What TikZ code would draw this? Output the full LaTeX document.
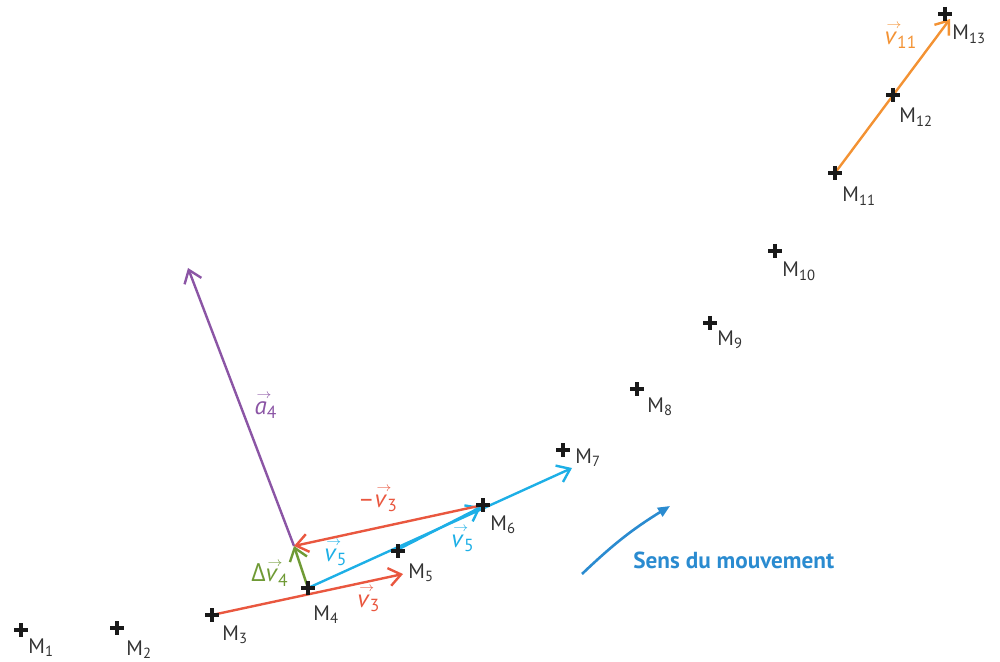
\documentclass[tikz,border=0pt]{standalone}
\usepackage{fontspec}
\setmainfont{PT Sans}
\newfontfamily\grk{Open Sans}
\usetikzlibrary{arrows.meta}
\definecolor{cred}{HTML}{E9573F}
\definecolor{ccyan}{HTML}{1DAFE6}
\definecolor{cpurple}{HTML}{8B55A5}
\definecolor{cgreen}{HTML}{6F9A35}
\definecolor{corange}{HTML}{F39233}
\definecolor{cblue}{HTML}{2A8BD0}
\definecolor{labgray}{HTML}{333333}
\newcommand\vv[1]{\makebox[0pt][l]{\hspace{0.08em}\raisebox{0.62em}[\height][0pt]{\scalebox{0.62}[0.55]{$\rightarrow$}}}\textit{#1}}
\begin{document}
\begin{tikzpicture}[x=0.5pt,y=-0.5pt,
  cross/.style={line width=1.6pt, black!90},
  lab/.style={anchor=base west, inner sep=0pt, text=labgray, font=\fontsize{10.5}{12}\selectfont},
  vlab/.style={inner sep=0pt, font=\fontsize{12.5}{14}\selectfont},
  vecarrow/.style={line width=1.2pt, -{Straight Barb[length=6pt,width=9pt]}},
  ]
\useasboundingbox (0,0) rectangle (1000,662);
% points
\foreach \n/\x/\y in {1/21/630,2/117/628,3/212/615,4/308/588,5/398/551,6/483/505,7/563/450,8/637/389,9/710/323,10/775/251,11/835/173,12/893/95,13/945/14}
  {\coordinate (M\n) at (\x,\y);}
% construction coordinates
\coordinate (V3t) at (403,574);
\coordinate (N3t) at (294,546);
\coordinate (V5t) at (572,468);
\coordinate (S5a) at (399,549);
\coordinate (S5b) at (481,507);
\coordinate (A4t) at (188,268);
\coordinate (V11t) at (950,19);
\coordinate (Ms) at (582,574);
\coordinate (Me) at (670,506);
% vectors
\draw[vecarrow,cpurple] (N3t) -- (A4t);
\draw[vecarrow,cred] (M3) -- (V3t);
\draw[vecarrow,ccyan] (M4) -- (V5t);
\draw[vecarrow,ccyan] (S5a) -- (S5b);
\draw[vecarrow,cred] (M6) -- (N3t);
\draw[vecarrow,cgreen] (M4) -- (N3t);
\draw[vecarrow,corange] (M11) -- (V11t);
% crosses and labels
\foreach \n/\x/\y/\dx/\dy in {1/21/630/7/23,2/117/628/9/27,3/212/615/10/25,4/308/588/5/32,5/398/551/10/27,6/483/505/7/25,7/563/450/12/13,8/637/389/10/23,9/710/323/7/22,10/775/251/7/26,11/835/173/7/29,12/893/95/6/28,13/945/14/7/26}
  {\draw[cross] ({\x-7},\y) -- ({\x+7},\y) (\x,{\y-7}) -- (\x,{\y+7});
   \node[lab] (L\n) at ({\x+\dx},{\y+\dy}) {M\textsubscript{\n}};}
% vector labels
\node[vlab,text=cred] (lnv3) at (378,503) {–\vv{v}\textsubscript{3}};
\node[vlab,text=cred] (lv3) at (369,603) {\vv{v}\textsubscript{3}};
\node[vlab,text=ccyan] (lv5a) at (336,557) {\vv{v}\textsubscript{5}};
\node[vlab,text=ccyan] (lv5b) at (463,543) {\vv{v}\textsubscript{5}};
\node[vlab,text=cgreen] (ldv4) at (270,575) {{\grk Δ}\vv{v}\textsubscript{4}};
\node[vlab,text=cpurple] (la4) at (266,410) {\vv{a}\textsubscript{4}};
\node[vlab,text=corange] (lv11) at (901,40) {\vv{v}\textsubscript{11}};
% movement
\draw[cblue, line width=1.3pt, -{Triangle[length=6pt,width=5pt]}] (Ms) to[bend left=6] (Me);
\node[anchor=base west, inner sep=0pt, text=cblue, font=\bfseries\fontsize{11.6}{14}\selectfont] (sens) at (633,568) {Sens du mouvement};
\end{tikzpicture}
\end{document}
